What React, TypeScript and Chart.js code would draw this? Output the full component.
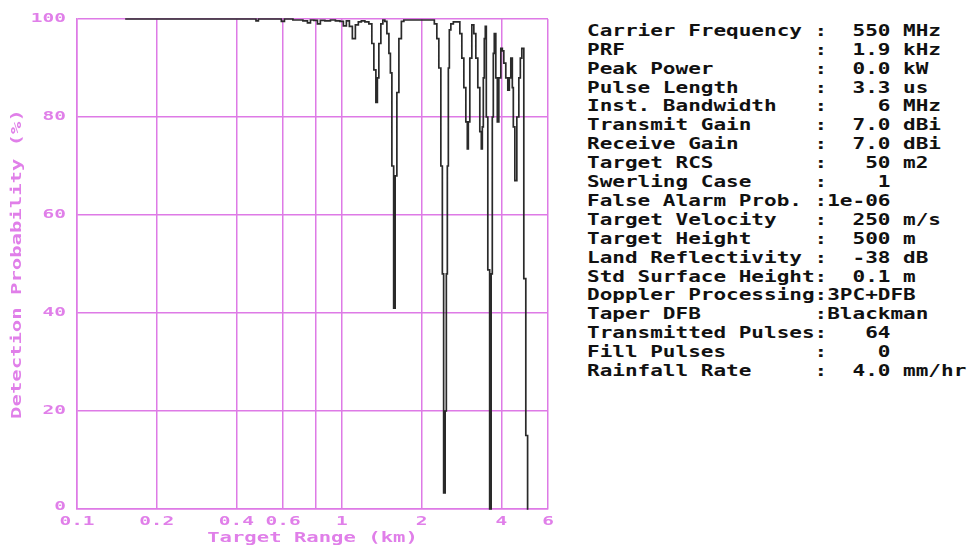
import React, { useEffect, useRef } from "react";
import { Chart, registerables } from "chart.js";

Chart.register(...registerables);

// Target range (km) and detection probability (%)
const rangeKm = [
  0.152, 0.47, 0.478, 0.49, 0.583, 0.599, 0.615, 0.694, 0.732, 0.751, 0.771, 0.798, 0.819, 0.84, 0.886,
  0.925, 0.966, 1.0, 1.026, 1.054, 1.081, 1.11, 1.139, 1.169, 1.2, 1.243, 1.286, 1.309, 1.332, 1.356,
  1.367, 1.391, 1.416, 1.44, 1.466, 1.492, 1.518, 1.531, 1.558, 1.579, 1.599, 1.627, 1.656, 1.699, 1.729,
  2.205, 2.263, 2.303, 2.343, 2.385, 2.405, 2.439, 2.469, 2.49, 2.512, 2.534, 2.556, 2.601, 2.67, 2.764,
  2.812, 2.862, 2.912, 2.963, 2.988, 3.015, 3.067, 3.122, 3.176, 3.232, 3.288, 3.346, 3.375, 3.405, 3.434,
  3.464, 3.494, 3.525, 3.587, 3.64, 3.681, 3.713, 3.746, 3.778, 3.845, 3.879, 3.947, 4.016, 4.051, 4.121,
  4.194, 4.268, 4.305, 4.381, 4.419, 4.458, 4.536, 4.616, 4.697, 4.738, 4.82, 4.905, 4.99, 5.06,
];
const detectionPct = [
  100, 100, 99.6, 100, 100, 99.5, 100, 99.8, 99.6, 99.2, 99.8, 99.7, 99.0, 99.7, 99.6,
  99.8, 99.6, 99.5, 98.6, 99.6, 98.5, 96.0, 98.8, 99.4, 99.6, 99.4, 99.0, 95.0, 89.6, 83.0,
  88, 95, 99, 99.8, 99.5, 97, 93, 89, 70, 41, 68, 85, 96, 99.5, 99.8,
  99.8, 99, 96, 90, 70, 48, 3.3, 20, 48, 70, 90, 97.8, 99, 99.4, 99.4,
  97, 92, 86, 79, 73.5, 79, 92, 98.8, 97, 92, 86, 77, 73.5, 78, 88,
  96, 98.5, 80, 48.8, 0, 48, 80, 93, 97, 88, 79, 88, 94, 93.5, 91,
  88, 85.5, 88, 92, 86, 78, 67, 80, 88, 92, 94, 47, 15, 0,
];

const xGridValues = [0.1, 0.2, 0.4, 0.6, 0.8, 1, 2, 4, 6];
const xTickLabels = ["0.1", "0.2", "0.4", "0.6", "", "1", "2", "4", "6"];
const yTickValues = [0, 20, 40, 60, 80, 100];

const xTitle = "Target Range (km)";
const yTitle = "Detection Probability (%)";

const paramLines = [
  "Carrier Frequency :  550 MHz",
  "PRF               :  1.9 kHz",
  "Peak Power        :  0.0 kW",
  "Pulse Length      :  3.3 us",
  "Inst. Bandwidth   :    6 MHz",
  "Transmit Gain     :  7.0 dBi",
  "Receive Gain      :  7.0 dBi",
  "Target RCS        :   50 m2",
  "Swerling Case     :    1",
  "False Alarm Prob. :1e-06",
  "Target Velocity   :  250 m/s",
  "Target Height     :  500 m",
  "Land Reflectivity :  -38 dB",
  "Std Surface Height:  0.1 m",
  "Doppler Processing:3PC+DFB",
  "Taper DFB         :Blackman",
  "Transmitted Pulses:   64",
  "Fill Pulses       :    0",
  "Rainfall Rate     :  4.0 mm/hr",
];

const GRID = "#DE7AE6";
const TEXT = "#E07FE9";
const MONO = '"DejaVu Sans Mono", "Liberation Mono", monospace';

const retroLabels = {
  id: "retroLabels",
  afterDraw(chart: any) {
    const ctx = chart.ctx as CanvasRenderingContext2D;
    const xs = chart.scales.x;
    const ys = chart.scales.y;
    const drawText = (
      text: string,
      x: number,
      y: number,
      size: number,
      sx: number,
      align: CanvasTextAlign,
      rot = 0
    ) => {
      ctx.save();
      ctx.translate(x, y);
      if (rot) ctx.rotate(rot);
      ctx.scale(sx, 1);
      ctx.font = `bold ${size}px ${MONO}`;
      ctx.fillStyle = TEXT;
      ctx.textAlign = align;
      ctx.textBaseline = "middle";
      ctx.fillText(text, 0, 0);
      ctx.restore();
    };
    xGridValues.forEach((v, i) => {
      const lbl = xTickLabels[i];
      if (!lbl) return;
      drawText(lbl, xs.getPixelForValue(v), ys.bottom + 13, 13, 1.5, "center");
    });
    yTickValues.forEach((v) => {
      drawText(String(v), xs.left - 11, ys.getPixelForValue(v) - (v === 0 ? 2 : 0), 13, 1.5, "right");
    });
    drawText(xTitle, (xs.left + xs.right) / 2, ys.bottom + 29, 14, 1.47, "center");
    drawText(yTitle, 17, (ys.top + ys.bottom) / 2, 14, 1.47, "center", -Math.PI / 2);
  },
};

function App() {
  const canvasRef = useRef<HTMLCanvasElement | null>(null);

  useEffect(() => {
    const canvas = canvasRef.current;
    if (!canvas) return;
    const chart = new Chart(canvas, {
      type: "line",
      data: {
        datasets: [
          {
            data: rangeKm.map((r, i) => ({ x: r, y: detectionPct[i] })),
            borderColor: "#2a2a2a",
            borderWidth: 1.7,
            pointRadius: 0,
            tension: 0,
            stepped: "middle",
            fill: false,
            clip: 4,
          } as any,
        ],
      },
      options: {
        animation: false,
        responsive: false,
        devicePixelRatio: 1,
        layout: { padding: { top: 19, right: 12, left: 0, bottom: 0 } },
        plugins: { legend: { display: false }, tooltip: { enabled: false } },
        scales: {
          x: {
            type: "logarithmic",
            min: 0.1,
            max: 6,
            afterBuildTicks: (s: any) => {
              s.ticks = xGridValues.map((v) => ({ value: v }));
            },
            afterFit: (s: any) => {
              s.height = 38;
            },
            ticks: { display: false },
            grid: { color: GRID, lineWidth: 1.5, drawTicks: false },
            border: { display: true, color: GRID, width: 1.5 },
          },
          y: {
            type: "linear",
            min: 0,
            max: 100,
            afterBuildTicks: (s: any) => {
              s.ticks = yTickValues.map((v) => ({ value: v }));
            },
            afterFit: (s: any) => {
              s.width = 77;
            },
            ticks: { display: false },
            grid: { color: GRID, lineWidth: 1.5, drawTicks: false },
            border: { display: true, color: GRID, width: 1.5 },
          },
        },
      } as any,
      plugins: [retroLabels],
    });
    return () => chart.destroy();
  }, []);

  return (
    <div
      style={{
        position: "fixed",
        left: 0,
        top: 0,
        width: 968,
        height: 547,
        background: "#ffffff",
        overflow: "hidden",
      }}
    >
      <canvas
        ref={canvasRef}
        width={560}
        height={547}
        style={{ position: "absolute", left: 0, top: 0, width: 560, height: 547 }}
      />
      <div
        style={{
          position: "absolute",
          left: 587,
          top: 21.8,
          font: `bold 15px ${MONO}`,
          lineHeight: "18.9px",
          whiteSpace: "pre",
          transform: "scaleX(1.4)",
          transformOrigin: "0 0",
          color: "#111111",
        }}
      >
        {paramLines.map((l, i) => (
          <div key={i}>{l}</div>
        ))}
      </div>
    </div>
  );
}

export default App;
